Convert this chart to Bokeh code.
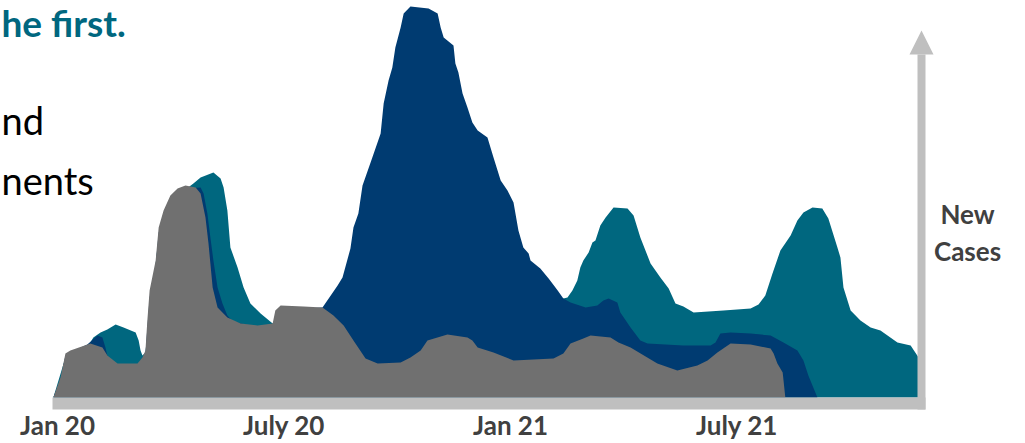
from bokeh.plotting import figure
from bokeh.models import Range1d, Arrow, NormalHead, ColumnDataSource
from bokeh.core.properties import value
from bokeh.embed import file_html
from bokeh.resources import INLINE

# ---- data (x = months since Jan 2020, y = relative new cases) ----
gray_m = [-0.11, 0.08, 0.21, 0.34, 0.87, 1.19, 1.32, 1.59, 2.12, 2.25, 2.33, 2.38, 2.44, 2.60, 2.68,
          2.81, 2.99, 3.18, 3.39, 3.66, 3.79, 3.92, 4.00, 4.11, 4.24, 4.50, 4.85, 5.30, 5.70, 5.77,
          5.91, 6.52, 7.02, 7.31, 7.58, 7.84, 8.16, 8.48, 9.09, 9.35, 9.62, 9.80, 10.33, 10.86, 10.99,
          11.13, 11.55, 12.08, 13.14, 13.40, 13.59, 13.93, 14.12, 14.65, 14.86, 15.18, 15.89, 16.42,
          16.95, 17.22, 17.48, 17.83, 18.36, 18.89, 18.97, 19.07, 19.21, 19.28]
gray_v = [0, 20, 44, 47, 54, 50, 42, 34, 34, 40, 47, 77, 107, 137, 170,
          187, 202, 209, 212, 210, 204, 180, 154, 110, 90, 80, 74, 72, 74, 87,
          92, 91, 90, 82, 72, 57, 39, 34, 35, 40, 47, 57, 63, 60, 57,
          50, 45, 37, 39, 44, 54, 59, 62, 60, 55, 50, 34, 27,
          32, 37, 45, 54, 53, 49, 44, 34, 25, 0]

blue_m = [-0.11, 0.08, 0.21, 0.34, 0.79, 1.06, 1.19, 1.27, 1.32, 1.59, 2.12, 2.33, 2.44, 2.60, 2.68,
          2.99, 3.39, 3.79, 3.87, 3.97, 4.05, 4.13, 4.24, 4.37, 4.50, 4.64, 5.30, 5.70, 5.91, 6.52,
          7.02, 7.42, 7.55, 7.76, 7.84, 7.97, 8.08, 8.34, 8.56, 8.64, 8.77, 8.87, 8.95, 9.09, 9.17,
          9.35, 9.83, 10.07, 10.15, 10.23, 10.49, 10.54, 10.62, 10.73, 10.86, 10.99, 11.13, 11.39,
          11.55, 11.74, 11.92, 12.08, 12.21, 12.34, 12.48, 12.53, 12.79, 13.01, 13.25, 13.40, 13.59,
          13.99, 14.30, 14.46, 14.60, 14.83, 14.91, 15.18, 15.44, 15.63, 16.58, 17.30, 17.43, 17.56,
          17.83, 18.36, 18.89, 19.23, 19.60, 19.76, 19.89, 20.13]
blue_v = [0, 18, 42, 45, 53, 62, 60, 50, 42, 30, 30, 44, 100, 132, 165,
          198, 209, 210, 204, 184, 160, 137, 110, 94, 82, 76, 70, 72, 89, 89,
          90, 112, 120, 149, 170, 184, 212, 240, 264, 294, 317, 330, 350, 370, 384,
          391, 389, 384, 370, 360, 352, 334, 325, 304, 290, 275, 267, 260,
          240, 217, 207, 195, 167, 150, 144, 137, 129, 119, 107, 99, 95,
          90, 92, 97, 99, 95, 85, 70, 57, 54, 52, 52, 55, 64,
          65, 64, 62, 55, 47, 37, 22, 0]

teal_m = [-0.11, 0.21, 0.79, 0.95, 1.14, 1.32, 1.54, 1.75, 2.07, 2.15, 2.20, 2.25, 2.33, 2.68, 2.99,
          3.39, 3.60, 3.79, 4.13, 4.32, 4.40, 4.50, 4.58, 4.77, 4.93, 5.11, 5.38, 5.70, 5.91, 7.02,
          8.50, 10.00, 12.00, 13.00, 13.40, 13.51, 13.64, 13.77, 13.85, 13.93, 14.07, 14.17, 14.25,
          14.38, 14.52, 14.73, 15.10, 15.26, 15.44, 15.71, 15.97, 16.19, 16.37, 16.58, 16.85, 17.64,
          18.36, 18.57, 18.75, 18.94, 19.15, 19.42, 19.60, 19.76, 20.00, 20.26, 20.42, 20.66, 20.74,
          20.82, 21.01, 21.27, 21.54, 21.80, 22.25, 22.60, 22.81, 22.82]
teal_v = [0, 40, 50, 60, 65, 68, 73, 70, 65, 57, 47, 42, 45, 160, 195,
          208, 214, 220, 225, 219, 210, 187, 150, 130, 110, 94, 84, 74, 88, 88,
          90, 110, 115, 105, 99, 100, 107, 117, 130, 137, 145, 155, 157,
          172, 180, 190, 189, 182, 160, 134, 120, 109, 94, 91, 85, 87,
          89, 93, 102, 124, 147, 162, 177, 185, 190, 189, 179, 150, 140,
          110, 87, 77, 70, 67, 55, 52, 40, 0]

tick_months = [0, 6, 12, 18]
tick_labels = ["Jan 20", "July 20", "Jan 21", "July 21"]
axis_title = ["New", "Cases"]
side_text = ["nd", "nents"]
headline = "he first."

TEAL = "#00677F"
BLUE = "#003B71"
GRAY = "#707070"
AXIS = "#BFBFBF"
LABEL = "#404040"

# page-pixel helpers for decoration placement
PX0, PXM, BASE = 57.0, 37.75, 397.0
def mx(px):
    return (px - PX0) / PXM
def hy(py):
    return BASE - py

W, H = 1025, 443
p = figure(width=W, height=H, output_backend="svg", toolbar_location=None,
           x_range=Range1d(mx(0), mx(W)), y_range=Range1d(hy(H), hy(0)),
           x_axis_type=None, y_axis_type=None, min_border=0)
p.outline_line_color = None
p.xgrid.visible = False
p.ygrid.visible = False
p.background_fill_color = "white"

# areas: teal behind, blue, gray in front
p.varea(x=teal_m, y1=0, y2=teal_v, fill_color=TEAL)
p.varea(x=blue_m, y1=0, y2=blue_v, fill_color=BLUE)
p.varea(x=gray_m, y1=0, y2=gray_v, fill_color=GRAY)

# x axis band
p.quad(left=mx(52), right=mx(925), bottom=hy(409), top=hy(397),
       fill_color=AXIS, line_color=None)

# y axis arrow
p.add_layout(Arrow(end=NormalHead(size=24, fill_color=AXIS, line_color=AXIS, line_width=0),
                   x_start=mx(921), y_start=hy(409), x_end=mx(921), y_end=hy(30),
                   line_color=AXIS, line_width=8))

# tick labels
tick_src = ColumnDataSource(dict(x=tick_months, y=[hy(424)] * len(tick_months), t=tick_labels))
p.text(x="x", y="y", text="t", source=tick_src, text_align="center", text_baseline="alphabetic",
       text_font=value("Lato"), text_font_style="bold", text_font_size="26px", text_color=LABEL)

# axis title
p.text(x=[mx(967)] * 2, y=[hy(213), hy(250)], text=axis_title, text_align="center",
       text_baseline="alphabetic", text_font=value("Lato"), text_font_style="bold",
       text_font_size="26px", text_color=LABEL)

# slide text (partially visible in the original)
p.text(x=[mx(1)], y=[hy(22)], text=[headline], text_align="left", text_baseline="alphabetic",
       text_font=value("Lato"), text_font_style="bold", text_font_size="37px", text_color=TEAL)
p.text(x=[mx(1), mx(1)], y=[hy(119), hy(179)], text=side_text, text_align="left",
       text_baseline="alphabetic", text_font=value("Lato"), text_font_size="38px",
       text_color="black")

open("out.html", "w").write(file_html(p, INLINE))
